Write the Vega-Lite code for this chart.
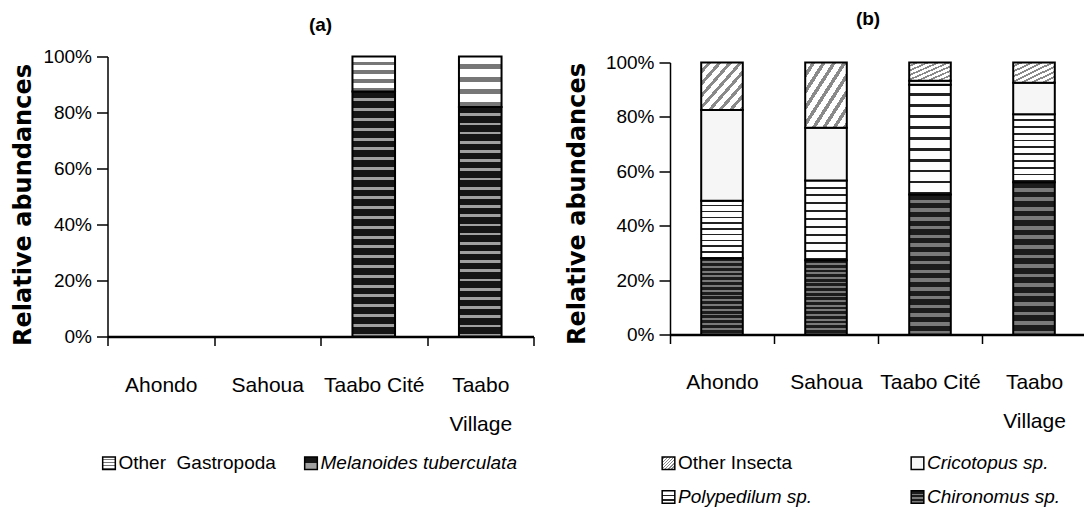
{
  "$schema": "https://vega.github.io/schema/vega-lite/v6.json",
  "background": "white",
  "padding": {"left": 11.5, "top": 9.5, "right": 0, "bottom": 0},
  "bounds": "flush",
  "spacing": 136.5,
  "resolve": {"scale": {"color": "independent"}, "legend": {"color": "independent"}},
  "datasets": {
    "a": [
      {"site": "Taabo Cité", "taxon": "Melanoides tuberculata", "value": 0.875, "k": 1},
      {"site": "Taabo Cité", "taxon": "Other\u00a0 Gastropoda", "value": 0.125, "k": 2},
      {"site": "Taabo Village", "taxon": "Melanoides tuberculata", "value": 0.82, "k": 1},
      {"site": "Taabo Village", "taxon": "Other\u00a0 Gastropoda", "value": 0.18, "k": 2}
    ],
    "b": [
      {"site": "Ahondo", "taxon": "Chironomus sp.", "value": 0.28, "k": 1},
      {"site": "Ahondo", "taxon": "Polypedilum sp.", "value": 0.212, "k": 2},
      {"site": "Ahondo", "taxon": "Cricotopus sp.", "value": 0.333, "k": 3},
      {"site": "Ahondo", "taxon": "Other Insecta", "value": 0.175, "k": 4},
      {"site": "Sahoua", "taxon": "Chironomus sp.", "value": 0.273, "k": 1},
      {"site": "Sahoua", "taxon": "Polypedilum sp.", "value": 0.293, "k": 2},
      {"site": "Sahoua", "taxon": "Cricotopus sp.", "value": 0.194, "k": 3},
      {"site": "Sahoua", "taxon": "Other Insecta", "value": 0.24, "k": 4},
      {"site": "Taabo Cité", "taxon": "Chironomus sp.", "value": 0.515, "k": 1},
      {"site": "Taabo Cité", "taxon": "Polypedilum sp.", "value": 0.403, "k": 2},
      {"site": "Taabo Cité", "taxon": "Cricotopus sp.", "value": 0.015, "k": 3},
      {"site": "Taabo Cité", "taxon": "Other Insecta", "value": 0.067, "k": 4},
      {"site": "Taabo Village", "taxon": "Chironomus sp.", "value": 0.56, "k": 1},
      {"site": "Taabo Village", "taxon": "Polypedilum sp.", "value": 0.25, "k": 2},
      {"site": "Taabo Village", "taxon": "Cricotopus sp.", "value": 0.116, "k": 3},
      {"site": "Taabo Village", "taxon": "Other Insecta", "value": 0.074, "k": 4}
    ]
  },
  "config": {
    "view": {"stroke": null},
    "font": "Liberation Sans",
    "axis": {
      "domainColor": "black",
      "tickColor": "black",
      "labelColor": "black",
      "titleColor": "black",
      "labelFont": "Liberation Sans",
      "labelFontSize": 19,
      "grid": false,
      "tickWidth": 1.5,
      "domainWidth": 1.5
    },
    "axisX": {"domainWidth": 2.5, "labelFontSize": 21, "tickSize": 9, "labelPadding": 29, "labelLineHeight": 38.5, "labelAngle": 0},
    "axisY": {"tickSize": 11, "labelPadding": 5, "titleFont": "DejaVu Sans", "titleFontWeight": "bold", "titleFontSize": 24},
    "legend": {
      "symbolType": "square",
      "symbolSize": 160,
      "symbolStrokeColor": "black",
      "symbolStrokeWidth": 1.5,
      "labelFont": "Liberation Sans",
      "labelFontSize": 19,
      "labelColor": "black",
      "labelOffset": 0,
      "labelLimit": 400
    }
  },
  "hconcat": [
    {
      "data": {"name": "a"},
      "width": 426,
      "height": 280,
      "title": {"text": "(a)", "offset": 12.5, "font": "Liberation Sans", "fontSize": 19, "fontWeight": "bold", "color": "black"},
      "mark": {"type": "bar", "stroke": "black", "strokeWidth": 2, "width": {"band": 0.4}},
      "encoding": {
        "x": {
          "field": "site", "type": "nominal",
          "scale": {"domain": ["Ahondo", "Sahoua", "Taabo Cité", "Taabo Village"], "paddingInner": 0, "paddingOuter": 0},
          "axis": {"title": null, "tickBand": "extent", "labelExpr": "datum.label == 'Taabo Village' ? ['Taabo', 'Village'] : datum.label"}
        },
        "y": {
          "field": "value", "type": "quantitative", "stack": true,
          "scale": {"domain": [0, 1]},
          "axis": {"values": [0, 0.2, 0.4, 0.6, 0.8, 1], "format": ".0%", "title": "Relative abundances", "titlePadding": 7, "titleY": 148}
        },
        "color": {
          "field": "taxon", "type": "nominal",
          "scale": {
            "domain": ["Other\u00a0 Gastropoda", "Melanoides tuberculata"],
            "range": [
              {"expr": "{gradient:'linear',x1:0,y1:0,x2:0,y2:1,stops:[{offset:0,color:'#ffffff'},{offset:0.15,color:'#ffffff'},{offset:0.15,color:'#777777'},{offset:0.25,color:'#777777'},{offset:0.25,color:'#ffffff'},{offset:0.4,color:'#ffffff'},{offset:0.4,color:'#777777'},{offset:0.5,color:'#777777'},{offset:0.5,color:'#ffffff'},{offset:0.65,color:'#ffffff'},{offset:0.65,color:'#777777'},{offset:0.75,color:'#777777'},{offset:0.75,color:'#ffffff'},{offset:0.9,color:'#ffffff'},{offset:0.9,color:'#777777'},{offset:1,color:'#777777'}]}"},
              {"expr": "{gradient:'linear',x1:0,y1:0,x2:0,y2:1,stops:[{offset:0,color:'#151515'},{offset:0.028,color:'#151515'},{offset:0.028,color:'#a0a0a0'},{offset:0.04,color:'#a0a0a0'},{offset:0.04,color:'#151515'},{offset:0.068,color:'#151515'},{offset:0.068,color:'#a0a0a0'},{offset:0.08,color:'#a0a0a0'},{offset:0.08,color:'#151515'},{offset:0.108,color:'#151515'},{offset:0.108,color:'#a0a0a0'},{offset:0.12,color:'#a0a0a0'},{offset:0.12,color:'#151515'},{offset:0.148,color:'#151515'},{offset:0.148,color:'#a0a0a0'},{offset:0.16,color:'#a0a0a0'},{offset:0.16,color:'#151515'},{offset:0.188,color:'#151515'},{offset:0.188,color:'#a0a0a0'},{offset:0.2,color:'#a0a0a0'},{offset:0.2,color:'#151515'},{offset:0.228,color:'#151515'},{offset:0.228,color:'#a0a0a0'},{offset:0.24,color:'#a0a0a0'},{offset:0.24,color:'#151515'},{offset:0.268,color:'#151515'},{offset:0.268,color:'#a0a0a0'},{offset:0.28,color:'#a0a0a0'},{offset:0.28,color:'#151515'},{offset:0.308,color:'#151515'},{offset:0.308,color:'#a0a0a0'},{offset:0.32,color:'#a0a0a0'},{offset:0.32,color:'#151515'},{offset:0.348,color:'#151515'},{offset:0.348,color:'#a0a0a0'},{offset:0.36,color:'#a0a0a0'},{offset:0.36,color:'#151515'},{offset:0.388,color:'#151515'},{offset:0.388,color:'#a0a0a0'},{offset:0.4,color:'#a0a0a0'},{offset:0.4,color:'#151515'},{offset:0.428,color:'#151515'},{offset:0.428,color:'#a0a0a0'},{offset:0.44,color:'#a0a0a0'},{offset:0.44,color:'#151515'},{offset:0.468,color:'#151515'},{offset:0.468,color:'#a0a0a0'},{offset:0.48,color:'#a0a0a0'},{offset:0.48,color:'#151515'},{offset:0.508,color:'#151515'},{offset:0.508,color:'#a0a0a0'},{offset:0.52,color:'#a0a0a0'},{offset:0.52,color:'#151515'},{offset:0.548,color:'#151515'},{offset:0.548,color:'#a0a0a0'},{offset:0.56,color:'#a0a0a0'},{offset:0.56,color:'#151515'},{offset:0.588,color:'#151515'},{offset:0.588,color:'#a0a0a0'},{offset:0.6,color:'#a0a0a0'},{offset:0.6,color:'#151515'},{offset:0.628,color:'#151515'},{offset:0.628,color:'#a0a0a0'},{offset:0.64,color:'#a0a0a0'},{offset:0.64,color:'#151515'},{offset:0.668,color:'#151515'},{offset:0.668,color:'#a0a0a0'},{offset:0.68,color:'#a0a0a0'},{offset:0.68,color:'#151515'},{offset:0.708,color:'#151515'},{offset:0.708,color:'#a0a0a0'},{offset:0.72,color:'#a0a0a0'},{offset:0.72,color:'#151515'},{offset:0.748,color:'#151515'},{offset:0.748,color:'#a0a0a0'},{offset:0.76,color:'#a0a0a0'},{offset:0.76,color:'#151515'},{offset:0.788,color:'#151515'},{offset:0.788,color:'#a0a0a0'},{offset:0.8,color:'#a0a0a0'},{offset:0.8,color:'#151515'},{offset:0.828,color:'#151515'},{offset:0.828,color:'#a0a0a0'},{offset:0.84,color:'#a0a0a0'},{offset:0.84,color:'#151515'},{offset:0.868,color:'#151515'},{offset:0.868,color:'#a0a0a0'},{offset:0.88,color:'#a0a0a0'},{offset:0.88,color:'#151515'},{offset:0.908,color:'#151515'},{offset:0.908,color:'#a0a0a0'},{offset:0.92,color:'#a0a0a0'},{offset:0.92,color:'#151515'},{offset:0.948,color:'#151515'},{offset:0.948,color:'#a0a0a0'},{offset:0.96,color:'#a0a0a0'},{offset:0.96,color:'#151515'},{offset:0.988,color:'#151515'},{offset:0.988,color:'#a0a0a0'},{offset:1,color:'#a0a0a0'}]}"}
            ]
          },
          "legend": {
            "title": null, "orient": "none", "direction": "horizontal",
            "legendX": -8, "legendY": 397, "columnPadding": 25,
            "labelFontStyle": {"expr": "indexof(datum.label, 'Other') === 0 ? 'normal' : 'italic'"}
          }
        },
        "order": {"field": "k", "type": "quantitative"}
      }
    },
    {
      "data": {"name": "b"},
      "width": 416,
      "height": 278,
      "title": {"text": "(b)", "offset": 24.5, "dx": -10, "font": "Liberation Sans", "fontSize": 19, "fontWeight": "bold", "color": "black"},
      "mark": {"type": "bar", "stroke": "black", "strokeWidth": 2, "width": {"band": 0.4}},
      "encoding": {
        "x": {
          "field": "site", "type": "nominal",
          "scale": {"domain": ["Ahondo", "Sahoua", "Taabo Cité", "Taabo Village"], "paddingInner": 0, "paddingOuter": 0},
          "axis": {"title": null, "tickBand": "extent", "labelPadding": 28, "labelExpr": "datum.label == 'Taabo Village' ? ['Taabo', 'Village'] : datum.label"}
        },
        "y": {
          "field": "value", "type": "quantitative", "stack": true,
          "scale": {"domain": [0, 1], "range": [278, 6]},
          "axis": {"values": [0, 0.2, 0.4, 0.6, 0.8, 1], "format": ".0%", "title": "Relative abundances", "titlePadding": 16, "titleY": 147}
        },
        "color": {
          "field": "taxon", "type": "nominal",
          "scale": {
            "domain": ["Other Insecta", "Cricotopus sp.", "Polypedilum sp.", "Chironomus sp."],
            "range": [
              {"expr": "{gradient:'linear',x1:0,y1:0,x2:1,y2:1,stops:[{offset:0,color:'#ffffff'},{offset:0.075,color:'#ffffff'},{offset:0.075,color:'#8a8a8a'},{offset:0.125,color:'#8a8a8a'},{offset:0.125,color:'#ffffff'},{offset:0.2,color:'#ffffff'},{offset:0.2,color:'#8a8a8a'},{offset:0.25,color:'#8a8a8a'},{offset:0.25,color:'#ffffff'},{offset:0.325,color:'#ffffff'},{offset:0.325,color:'#8a8a8a'},{offset:0.375,color:'#8a8a8a'},{offset:0.375,color:'#ffffff'},{offset:0.45,color:'#ffffff'},{offset:0.45,color:'#8a8a8a'},{offset:0.5,color:'#8a8a8a'},{offset:0.5,color:'#ffffff'},{offset:0.575,color:'#ffffff'},{offset:0.575,color:'#8a8a8a'},{offset:0.625,color:'#8a8a8a'},{offset:0.625,color:'#ffffff'},{offset:0.7,color:'#ffffff'},{offset:0.7,color:'#8a8a8a'},{offset:0.75,color:'#8a8a8a'},{offset:0.75,color:'#ffffff'},{offset:0.825,color:'#ffffff'},{offset:0.825,color:'#8a8a8a'},{offset:0.875,color:'#8a8a8a'},{offset:0.875,color:'#ffffff'},{offset:0.95,color:'#ffffff'},{offset:0.95,color:'#8a8a8a'},{offset:1,color:'#8a8a8a'}]}"},
              "#f6f6f6",
              {"expr": "{gradient:'linear',x1:0,y1:0,x2:0,y2:1,stops:[{offset:0,color:'#ffffff'},{offset:0.075,color:'#ffffff'},{offset:0.075,color:'#222222'},{offset:0.1,color:'#222222'},{offset:0.1,color:'#ffffff'},{offset:0.175,color:'#ffffff'},{offset:0.175,color:'#222222'},{offset:0.2,color:'#222222'},{offset:0.2,color:'#ffffff'},{offset:0.275,color:'#ffffff'},{offset:0.275,color:'#222222'},{offset:0.3,color:'#222222'},{offset:0.3,color:'#ffffff'},{offset:0.375,color:'#ffffff'},{offset:0.375,color:'#222222'},{offset:0.4,color:'#222222'},{offset:0.4,color:'#ffffff'},{offset:0.475,color:'#ffffff'},{offset:0.475,color:'#222222'},{offset:0.5,color:'#222222'},{offset:0.5,color:'#ffffff'},{offset:0.575,color:'#ffffff'},{offset:0.575,color:'#222222'},{offset:0.6,color:'#222222'},{offset:0.6,color:'#ffffff'},{offset:0.675,color:'#ffffff'},{offset:0.675,color:'#222222'},{offset:0.7,color:'#222222'},{offset:0.7,color:'#ffffff'},{offset:0.775,color:'#ffffff'},{offset:0.775,color:'#222222'},{offset:0.8,color:'#222222'},{offset:0.8,color:'#ffffff'},{offset:0.875,color:'#ffffff'},{offset:0.875,color:'#222222'},{offset:0.9,color:'#222222'},{offset:0.9,color:'#ffffff'},{offset:0.975,color:'#ffffff'},{offset:0.975,color:'#222222'},{offset:1,color:'#222222'}]}"},
              {"expr": "{gradient:'linear',x1:0,y1:0,x2:0,y2:1,stops:[{offset:0,color:'#1c1c1c'},{offset:0.0375,color:'#1c1c1c'},{offset:0.0375,color:'#7a7a7a'},{offset:0.0625,color:'#7a7a7a'},{offset:0.0625,color:'#1c1c1c'},{offset:0.1,color:'#1c1c1c'},{offset:0.1,color:'#7a7a7a'},{offset:0.125,color:'#7a7a7a'},{offset:0.125,color:'#1c1c1c'},{offset:0.1625,color:'#1c1c1c'},{offset:0.1625,color:'#7a7a7a'},{offset:0.1875,color:'#7a7a7a'},{offset:0.1875,color:'#1c1c1c'},{offset:0.225,color:'#1c1c1c'},{offset:0.225,color:'#7a7a7a'},{offset:0.25,color:'#7a7a7a'},{offset:0.25,color:'#1c1c1c'},{offset:0.2875,color:'#1c1c1c'},{offset:0.2875,color:'#7a7a7a'},{offset:0.3125,color:'#7a7a7a'},{offset:0.3125,color:'#1c1c1c'},{offset:0.35,color:'#1c1c1c'},{offset:0.35,color:'#7a7a7a'},{offset:0.375,color:'#7a7a7a'},{offset:0.375,color:'#1c1c1c'},{offset:0.4125,color:'#1c1c1c'},{offset:0.4125,color:'#7a7a7a'},{offset:0.4375,color:'#7a7a7a'},{offset:0.4375,color:'#1c1c1c'},{offset:0.475,color:'#1c1c1c'},{offset:0.475,color:'#7a7a7a'},{offset:0.5,color:'#7a7a7a'},{offset:0.5,color:'#1c1c1c'},{offset:0.5375,color:'#1c1c1c'},{offset:0.5375,color:'#7a7a7a'},{offset:0.5625,color:'#7a7a7a'},{offset:0.5625,color:'#1c1c1c'},{offset:0.6,color:'#1c1c1c'},{offset:0.6,color:'#7a7a7a'},{offset:0.625,color:'#7a7a7a'},{offset:0.625,color:'#1c1c1c'},{offset:0.6625,color:'#1c1c1c'},{offset:0.6625,color:'#7a7a7a'},{offset:0.6875,color:'#7a7a7a'},{offset:0.6875,color:'#1c1c1c'},{offset:0.725,color:'#1c1c1c'},{offset:0.725,color:'#7a7a7a'},{offset:0.75,color:'#7a7a7a'},{offset:0.75,color:'#1c1c1c'},{offset:0.7875,color:'#1c1c1c'},{offset:0.7875,color:'#7a7a7a'},{offset:0.8125,color:'#7a7a7a'},{offset:0.8125,color:'#1c1c1c'},{offset:0.85,color:'#1c1c1c'},{offset:0.85,color:'#7a7a7a'},{offset:0.875,color:'#7a7a7a'},{offset:0.875,color:'#1c1c1c'},{offset:0.9125,color:'#1c1c1c'},{offset:0.9125,color:'#7a7a7a'},{offset:0.9375,color:'#7a7a7a'},{offset:0.9375,color:'#1c1c1c'},{offset:0.975,color:'#1c1c1c'},{offset:0.975,color:'#7a7a7a'},{offset:1,color:'#7a7a7a'}]}"}
            ]
          },
          "legend": {
            "title": null, "orient": "none", "direction": "horizontal", "columns": 2,
            "legendX": -11, "legendY": 397, "columnPadding": 95, "rowPadding": 14,
            "labelFontStyle": {"expr": "indexof(datum.label, 'Other') === 0 ? 'normal' : 'italic'"}
          }
        },
        "order": {"field": "k", "type": "quantitative"}
      }
    }
  ]
}
